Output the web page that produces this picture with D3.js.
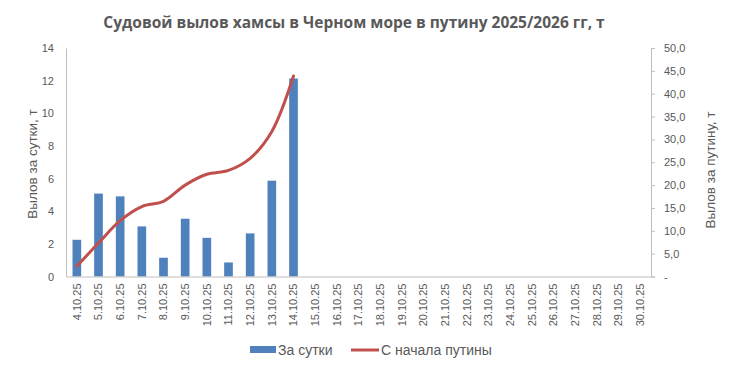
<!DOCTYPE html>
<html>
<head>
<meta charset="utf-8">
<script src="https://cdn.jsdelivr.net/npm/d3@7"></script>
<style>
  body { margin: 0; background: #fff; }
  svg text { font-family: "Liberation Sans", Arial, sans-serif; fill: #595959; }
</style>
</head>
<body>
<svg id="chart" width="733" height="371"></svg>
<script>
// days of the season
const days = ["4.10.25","5.10.25","6.10.25","7.10.25","8.10.25","9.10.25","10.10.25","11.10.25","12.10.25",
  "13.10.25","14.10.25","15.10.25","16.10.25","17.10.25","18.10.25","19.10.25","20.10.25","21.10.25",
  "22.10.25","23.10.25","24.10.25","25.10.25","26.10.25","27.10.25","28.10.25","29.10.25","30.10.25"];
// catch per day, t
const daily = [2.25, 5.08, 4.91, 3.07, 1.15, 3.54, 2.37, 0.86, 2.64, 5.87, 12.13];
// catch since start of season, t
const total = [2.25, 7.33, 12.24, 15.31, 16.46, 20.0, 22.37, 23.23, 25.87, 31.74, 43.87];
const leftTicks = [0, 2, 4, 6, 8, 10, 12, 14];
const rightTicks = [0, 5, 10, 15, 20, 25, 30, 35, 40, 45, 50];

const svg = d3.select("#chart");
const plotL = 66, plotR = 651, plotT = 48, plotB = 276.5;
const axisColor = "#bfbfbf";

let x = d3.scaleBand().domain(days).range([plotL, plotR]).paddingInner(0.6).paddingOuter(0.3);
let y = d3.scaleLinear().domain([0, 14]).range([plotB, plotT]);
let y2 = d3.scaleLinear().domain([0, 50]).range([plotB, plotT]);

// title
svg.append("text")
  .attr("x", 354).attr("y", 28)
  .attr("text-anchor", "middle")
  .style("font-family", "'Open Sans', 'Liberation Sans', sans-serif")
  .style("font-size", "15.5px").style("font-weight", "bold")
  .text("Судовой вылов хамсы в Черном море в путину 2025/2026 гг, т");

// bars
svg.append("g").selectAll("rect")
  .data(daily)
  .join("rect")
  .attr("x", (d, i) => x(days[i]))
  .attr("width", x.bandwidth())
  .attr("y", d => y(d))
  .attr("height", d => plotB - y(d))
  .attr("fill", "#4f81bd");

// left axis
let gL = svg.append("g").attr("transform", `translate(${plotL},0)`)
  .call(d3.axisLeft(y).tickValues(leftTicks).tickSize(0).tickPadding(12));
gL.select(".domain").attr("stroke", axisColor);
gL.selectAll("text").style("font-size", "11px").style("fill", "#595959");

// right axis
let gR = svg.append("g").attr("transform", `translate(${plotR},0)`)
  .call(d3.axisRight(y2).tickValues(rightTicks).tickSize(4).tickSizeOuter(4).tickPadding(9)
    .tickFormat(d => d === 0 ? "-" : d3.format(".1f")(d).replace(".", ",")));
gR.select(".domain").attr("stroke", axisColor);
gR.selectAll("line").attr("stroke", axisColor);
gR.selectAll("text").style("font-size", "11px").style("fill", "#595959");

// bottom axis
let gB = svg.append("g").attr("transform", `translate(0,${plotB})`)
  .call(d3.axisBottom(x).tickSize(0).tickSizeOuter(0));
gB.select(".domain").attr("stroke", axisColor);
gB.selectAll("text")
  .style("font-size", "11px").style("fill", "#595959")
  .attr("transform", "rotate(-90)")
  .attr("text-anchor", "end")
  .attr("x", -7).attr("y", 0).attr("dy", "0.35em");

// cumulative line
let line = d3.line()
  .x((d, i) => x(days[i]) + x.bandwidth() / 2)
  .y(d => y2(d))
  .curve(d3.curveCatmullRom.alpha(0.5));
svg.append("path")
  .datum(total)
  .attr("d", line)
  .attr("fill", "none")
  .attr("stroke", "#c0504d")
  .attr("stroke-width", 3)
  .attr("stroke-linecap", "round");

// axis titles
svg.append("text")
  .attr("transform", "translate(37,164) rotate(-90)")
  .attr("text-anchor", "middle")
  .style("font-size", "13.5px")
  .text("Вылов за сутки, т");
svg.append("text")
  .attr("transform", "translate(715,170) rotate(-90)")
  .attr("text-anchor", "middle")
  .style("font-size", "13.5px")
  .text("Вылов за путину, т");

// legend
let lg = svg.append("g");
lg.append("rect").attr("x", 250).attr("y", 346).attr("width", 26).attr("height", 7).attr("fill", "#4f81bd");
lg.append("text").attr("x", 278).attr("y", 355).style("font-size", "14px").text("За сутки");
lg.append("line").attr("x1", 351).attr("x2", 379).attr("y1", 350).attr("y2", 350)
  .attr("stroke", "#c0504d").attr("stroke-width", 3);
lg.append("text").attr("x", 381).attr("y", 355).style("font-size", "14px").text("С начала путины");
</script>
</body>
</html>
